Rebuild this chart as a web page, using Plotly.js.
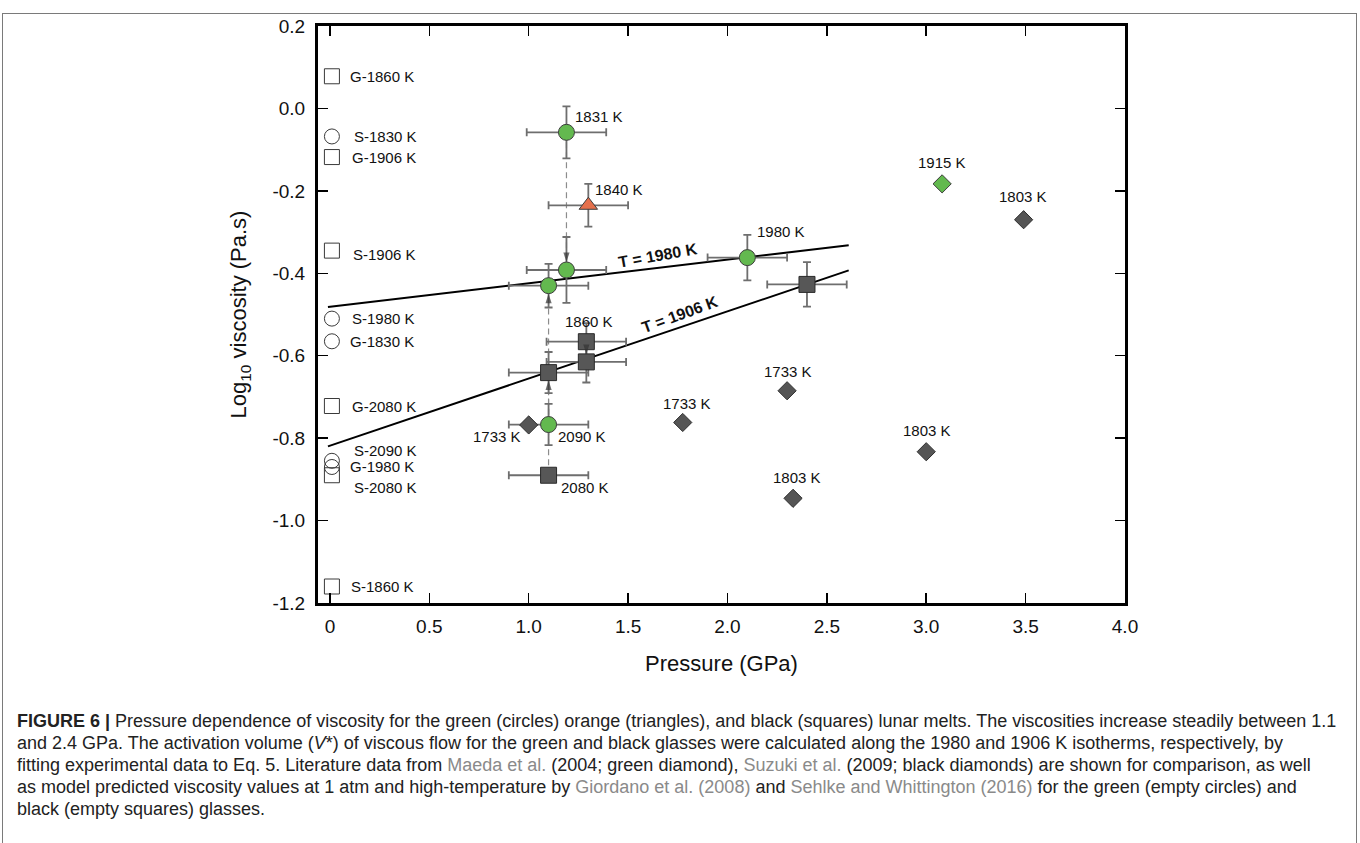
<!DOCTYPE html>
<html>
<head>
<meta charset="utf-8">
<script src="https://cdn.plot.ly/plotly-3.0.1.min.js"></script>
<style>
  html, body { margin:0; padding:0; background:#fff; }
  #wrap { position:relative; width:1360px; height:843px; overflow:hidden; }
  #chart { position:absolute; left:0; top:0; width:1360px; height:843px; }
  #frame { position:absolute; left:2px; top:13px; width:1353px; height:840px;
           border:1px solid #7a7a7a; border-bottom:none; pointer-events:none; }
  #caption { position:absolute; left:17px; top:710px; font-family:"Liberation Sans", Arial, sans-serif;
             font-size:18px; line-height:22px; color:#222; white-space:nowrap; }
  #caption .lnk { color:#8a8a8a; }
</style>
</head>
<body>
<div id="wrap">
  <div id="chart"></div>
  <div id="frame"></div>
  <div id="caption">
    <b>FIGURE 6 |</b> Pressure dependence of viscosity for the green (circles) orange (triangles), and black (squares) lunar melts. The viscosities increase steadily between 1.1<br>
    and 2.4 GPa. The activation volume (<i>V</i>*) of viscous flow for the green and black glasses were calculated along the 1980 and 1906 K isotherms, respectively, by<br>
    fitting experimental data to Eq. 5. Literature data from <span class="lnk">Maeda et al.</span> (2004; green diamond), <span class="lnk">Suzuki et al.</span> (2009; black diamonds) are shown for comparison, as well<br>
    as model predicted viscosity values at 1 atm and high-temperature by <span class="lnk">Giordano et al. (2008)</span> and <span class="lnk">Sehlke and Whittington (2016)</span> for the green (empty circles) and<br>
    black (empty squares) glasses.
  </div>
</div>
<script>
// ---------------- DATA ----------------
// Green glass (filled circles)
const greenP      = [1.19, 1.19, 1.10, 2.10, 1.10];
const greenV      = [-0.058, -0.392, -0.430, -0.362, -0.767];
const greenPErr   = [0.20, 0.20, 0.20, 0.20, 0.20];
const greenVErr   = [0.063, 0.080, 0.053, 0.055, 0.050];
const greenLabels = ['1831 K', '', '', '1980 K', '2090 K'];

// Orange glass (triangle)
const orangeP      = [1.30];
const orangeV      = [-0.235];
const orangePErr   = [0.20];
const orangeVErr   = [0.052];
const orangeLabels = ['1840 K'];

// Black glass (filled squares)
const blackP      = [1.29, 1.29, 1.10, 1.10, 2.40];
const blackV      = [-0.566, -0.615, -0.641, -0.890, -0.427];
const blackPErr   = [0.20, 0.20, 0.20, 0.20, 0.20];
const blackVErr   = [0.045, 0.050, 0.050, 0.0, 0.054];
const blackLabels = ['1860 K', '', '', '2080 K', ''];

// Suzuki et al. (2009) black diamonds
const suzukiP      = [1.00, 1.775, 2.30, 2.33, 3.00, 3.49];
const suzukiV      = [-0.768, -0.762, -0.685, -0.946, -0.833, -0.270];
const suzukiLabels = ['1733 K', '1733 K', '1733 K', '1803 K', '1803 K', '1803 K'];

// Maeda et al. (2004) green diamond
const maedaP      = [3.08];
const maedaV      = [-0.183];
const maedaLabels = ['1915 K'];

// Model predictions at 1 atm (empty circles: green glass)
const modelCircP      = [0.01, 0.01, 0.01, 0.01, 0.01];
const modelCircV      = [-0.068, -0.510, -0.565, -0.855, -0.870];
const modelCircLabels = ['S-1830 K', 'S-1980 K', 'G-1830 K', 'S-2090 K', 'G-1980 K'];

// Model predictions at 1 atm (empty squares: black glass)
const modelSqP      = [0.01, 0.01, 0.01, 0.01, 0.01, 0.01];
const modelSqV      = [0.078, -0.118, -0.345, -0.722, -0.890, -1.160];
const modelSqLabels = ['G-1860 K', 'G-1906 K', 'S-1906 K', 'G-2080 K', 'S-2080 K', 'S-1860 K'];

// Isotherm fits (end points)
const fit1980P = [-0.01, 2.61];
const fit1980V = [-0.482, -0.332];
const fit1906P = [-0.01, 2.61];
const fit1906V = [-0.820, -0.393];
const fitLabels = ['T = 1980 K', 'T = 1906 K'];
const fitLabelP = [1.65, 1.76];
const fitLabelV = [-0.358, -0.501];

// Connectors (from -> to) between repeated measurements: [seriesFrom, idxFrom, seriesTo, idxTo]
const connectors = [
  ['green', 0, 'green', 1],
  ['green', 4, 'green', 2],
  ['black', 3, 'black', 2],
  ['black', 0, 'black', 1]
];

// Axis ticks
const xTickVals = [0, 0.5, 1.0, 1.5, 2.0, 2.5, 3.0, 3.5, 4.0];
const xTickText = ['0', '0.5', '1.0', '1.5', '2.0', '2.5', '3.0', '3.5', '4.0'];
const yTickVals = [-1.2, -1.0, -0.8, -0.6, -0.4, -0.2, 0.0, 0.2];
const yTickText = ['-1.2', '-1.0', '-0.8', '-0.6', '-0.4', '-0.2', '0.0', '0.2'];

// ---------------- BUILD ----------------
const FONT = '"Liberation Sans", Arial, Helvetica, sans-serif';
const series = {
  green: {p: greenP, v: greenV},
  black: {p: blackP, v: blackV}
};

const traces = [];

// dashed connectors with arrow heads pointing at the target marker
connectors.forEach(c => {
  const a = series[c[0]], b = series[c[2]];
  traces.push({
    x: [a.p[c[1]], b.p[c[3]]], y: [a.v[c[1]], b.v[c[3]]],
    mode: 'lines', type: 'scatter', hoverinfo: 'skip', showlegend: false,
    line: {color: '#8c8c8c', width: 1.2, dash: '6px,4px'}
  });
});

// fit lines
[[fit1980P, fit1980V], [fit1906P, fit1906V]].forEach(f => {
  traces.push({x: f[0], y: f[1], mode: 'lines', type: 'scatter', showlegend: false,
    line: {color: '#000', width: 2}});
});

const errStyle = {color: '#6e6e6e', thickness: 1.8, width: 4};

// model empty markers
traces.push({x: modelCircP, y: modelCircV, mode: 'markers', type: 'scatter', showlegend: false,
  marker: {symbol: 'circle-open', size: 15, color: '#3a3a3a', line: {width: 1}}});
traces.push({x: modelSqP, y: modelSqV, mode: 'markers', type: 'scatter', showlegend: false,
  marker: {symbol: 'square-open', size: 15, color: '#3a3a3a', line: {width: 1}}});

// black squares
traces.push({x: blackP, y: blackV, mode: 'markers', type: 'scatter', showlegend: false,
  error_x: Object.assign({type: 'data', array: blackPErr, visible: true}, errStyle),
  error_y: Object.assign({type: 'data', array: blackVErr, visible: true}, errStyle),
  marker: {symbol: 'square', size: 16, color: '#575757', line: {color: '#2a2a2a', width: 1}}});

// green circles
traces.push({x: greenP, y: greenV, mode: 'markers', type: 'scatter', showlegend: false,
  error_x: Object.assign({type: 'data', array: greenPErr, visible: true}, errStyle),
  error_y: Object.assign({type: 'data', array: greenVErr, visible: true}, errStyle),
  marker: {symbol: 'circle', size: 16, color: '#63b94f', line: {color: '#3d3d3d', width: 1}}});

// orange triangle
traces.push({x: orangeP, y: orangeV, mode: 'markers', type: 'scatter', showlegend: false,
  error_x: Object.assign({type: 'data', array: orangePErr, visible: true}, errStyle),
  error_y: Object.assign({type: 'data', array: orangeVErr, visible: true}, errStyle),
  marker: {symbol: 'triangle-up', size: 16, color: '#e4704c', line: {color: '#3d3d3d', width: 1}}});

// Suzuki diamonds
traces.push({x: suzukiP, y: suzukiV, mode: 'markers', type: 'scatter', showlegend: false,
  marker: {symbol: 'diamond', size: 14, color: '#555555', line: {color: '#2e2e2e', width: 1}}});
// Maeda diamond
traces.push({x: maedaP, y: maedaV, mode: 'markers', type: 'scatter', showlegend: false,
  marker: {symbol: 'diamond', size: 14, color: '#62b94e', line: {color: '#3d3d3d', width: 1}}});

// arrow heads (drawn on top of error bars), pointing at the target marker
connectors.forEach(c => {
  const a = series[c[0]], b = series[c[2]];
  traces.push({
    x: [a.p[c[1]], b.p[c[3]]], y: [a.v[c[1]], b.v[c[3]]],
    mode: 'markers', type: 'scatter', hoverinfo: 'skip', showlegend: false,
    marker: {symbol: 'arrow', size: [0, 10], angleref: 'previous', standoff: 8,
             color: '#333', line: {width: 0}}
  });
});

// ---------------- ANNOTATIONS ----------------
const ann = [];
const lblFont = {family: FONT, size: 15, color: '#111'};
function addLabels(P, V, L, offs, anchor) {
  L.forEach((t, i) => {
    if (!t) return;
    const o = offs[i] || [0, 0];
    ann.push({x: P[i], y: V[i], xref: 'x', yref: 'y', text: t, showarrow: false,
      xanchor: anchor || 'center', yanchor: 'middle', xshift: o[0], yshift: o[1], font: lblFont});
  });
}
addLabels(greenP, greenV, greenLabels, [[33, 16], null, null, [34, 26], [33, -12]]);
addLabels(orangeP, orangeV, orangeLabels, [[31, 16]]);
addLabels(blackP, blackV, blackLabels, [[3, 20], null, null, [36, -12], null]);
addLabels(suzukiP, suzukiV, suzukiLabels, [[-32, -12], [4, 19], [1, 19], [4, 21], [1, 21], [-1, 23]]);
addLabels(maedaP, maedaV, maedaLabels, [[0, 21]]);
addLabels(modelCircP, modelCircV, modelCircLabels, [[20, 0], [18, 0], [16, 0], [20, 10], [16, 0]], 'left');
addLabels(modelSqP, modelSqV, modelSqLabels, [[16, 0], [18, 0], [19, -4], [18, 0], [20, -12], [17, 0]], 'left');

// isotherm labels
ann.push({x: fitLabelP[0], y: fitLabelV[0], xref: 'x', yref: 'y', text: '<b>' + fitLabels[0] + '</b>',
  showarrow: false, textangle: -10, font: {family: FONT, size: 16, color: '#111'}});
ann.push({x: fitLabelP[1], y: fitLabelV[1], xref: 'x', yref: 'y', text: '<b>' + fitLabels[1] + '</b>',
  showarrow: false, textangle: -20, font: {family: FONT, size: 16, color: '#111'}});

const layout = {
  width: 1360, height: 843,
  margin: {l: 318, r: 235, t: 26, b: 240},
  paper_bgcolor: 'rgba(0,0,0,0)', plot_bgcolor: 'rgba(0,0,0,0)',
  font: {family: FONT, color: '#111'},
  showlegend: false,
  xaxis: {
    range: [-0.06, 4.0], tickvals: xTickVals, ticktext: xTickText,
    ticks: 'inside', ticklen: 10, tickwidth: 1.5, tickcolor: '#000',
    showline: true, linewidth: 3, linecolor: '#000', mirror: 'allticks',
    showgrid: false, zeroline: false, tickfont: {family: FONT, size: 19, color: '#111'},
    ticklabelstandoff: 4,
    title: {text: 'Pressure (GPa)', font: {family: FONT, size: 22, color: '#111'}, standoff: 20}
  },
  yaxis: {
    range: [-1.2, 0.2], tickvals: yTickVals, ticktext: yTickText,
    ticks: 'inside', ticklen: 10, tickwidth: 1.5, tickcolor: '#000',
    showline: true, linewidth: 3, linecolor: '#000', mirror: 'allticks',
    showgrid: false, zeroline: false, tickfont: {family: FONT, size: 19, color: '#111'},
    ticklabelstandoff: 6,
    title: {text: 'Log<sub>10</sub> viscosity (Pa.s)', font: {family: FONT, size: 22, color: '#111'}, standoff: 20}
  },
  annotations: ann
};

Plotly.newPlot('chart', traces, layout, {staticPlot: true, displayModeBar: false});
</script>
</body>
</html>
